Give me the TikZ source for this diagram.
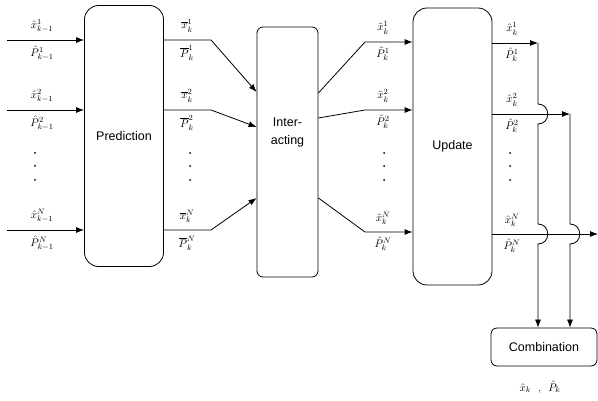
\documentclass[tikz,border=0pt]{standalone}
\usepackage{amsmath,amssymb}
\usepackage{fontspec}
\newfontfamily\boxfont{Liberation Sans}
\usetikzlibrary{arrows.meta,positioning,calc}

\begin{document}
\begin{tikzpicture}[x=1pt,y=-1pt,
    capsule/.style={draw,line width=0.8pt,rounded corners=14pt,inner sep=0pt,
      font=\boxfont\fontsize{12.5}{18}\selectfont},
    block/.style={draw,line width=0.8pt,rounded corners=6pt,inner sep=0pt,align=center,
      font=\boxfont\fontsize{12.5}{18}\selectfont},
    boxtext/.style={inner sep=0pt,align=center,font=\boxfont\fontsize{12.5}{18}\selectfont},
    arr/.style={-{Latex[length=8pt,width=6pt]},line width=0.8pt},
    lbl/.style={inner sep=0pt,font=\fontsize{11}{13}\selectfont}
  ]
    \useasboundingbox (0,0) rectangle (598,401);
    \node[capsule,minimum width=79pt,minimum height=261pt] (pred) at (124,136) {Prediction};
    \node[block,minimum width=61pt,minimum height=250pt] (inter) at (287.5,152) {};
    \node[boxtext] (intertxt) at ($(inter.center)+(0,-20)$) {Inter-\\acting};
    \node[capsule,minimum width=79pt,minimum height=277pt] (upd) at (452.5,146.5) {Update};
    \node[block,minimum width=106pt,minimum height=38pt] (comb) at (544,347) {Combination};

    % inputs to prediction
    \foreach \y/\num in {40/1,110/2,230/N}{
      \coordinate (in\num) at (7,\y);
      \draw[arr] (in\num) -- (in\num -| pred.west);
      \node[lbl] at (42,\y-14) {$\hat{x}^{\num}_{k-1}$};
      \node[lbl] at (42,\y+13) {$\hat{P}^{\num}_{k-1}$};
    }
    % prediction to interacting
    \foreach \y/\yend/\num in {40/92/1,110/127/2,230/198/N}{
      \coordinate (pb\num) at (211,\y);
      \draw[arr] (pred.east |- pb\num) -- (pb\num) -- (inter.west |- 0,\yend);
      \node[lbl] at (187,\y-14) {$\overline{x}^{\num}_{k}$};
      \node[lbl] at (187,\y+13) {$\overline{P}^{\num}_{k}$};
    }
    % interacting to update
    \foreach \ys/\y/\num in {93/42/1,118/110/2,198/232/N}{
      \coordinate (ib\num) at (365,\y);
      \draw[arr] (inter.east |- 0,\ys) -- (ib\num) -- (ib\num -| upd.west);
      \node[lbl] at (383,\y-14) {$\tilde{x}^{\num}_{k}$};
      \node[lbl] at (383,\y+12) {$\tilde{P}^{\num}_{k}$};
    }
    % update outputs
    \coordinate (u1) at (538,43);
    \coordinate (u2) at (570,114);
    \coordinate (uN) at (598,234);
    \foreach \num in {1,2,N}{
      \draw[arr] (upd.east |- u\num) -- (u\num);
      \node[lbl] at ($(u\num -| 512,0)+(0,-14)$) {$\hat{x}^{\num}_{k}$};
      \node[lbl] at ($(u\num -| 512,0)+(0,12)$) {$\hat{P}^{\num}_{k}$};
    }
    \draw[arr] (u1) -- ($(u1 |- u2)+(0,-10)$) .. controls +(13,0) and +(13,0) .. ($(u1 |- u2)+(0,10)$)
      -- ($(u1 |- uN)+(0,-10)$) .. controls +(13,0) and +(13,0) .. ($(u1 |- uN)+(0,10)$)
      -- (u1 |- comb.north);
    \draw[arr] (u2) -- ($(u2 |- uN)+(0,-10)$) .. controls +(13,0) and +(13,0) .. ($(u2 |- uN)+(0,10)$)
      -- (u2 |- comb.north);
    \node[lbl] (out) at (540,387) {$\hat{x}_{k}$\ \ ,\ \ $\hat{P}_{k}$};

    % dots
    \foreach \x in {35,190,384,510}{
      \foreach \y in {153,166,180}{
        \fill (\x,\y) circle (1pt);
      }
    }
  \end{tikzpicture}
\end{document}
